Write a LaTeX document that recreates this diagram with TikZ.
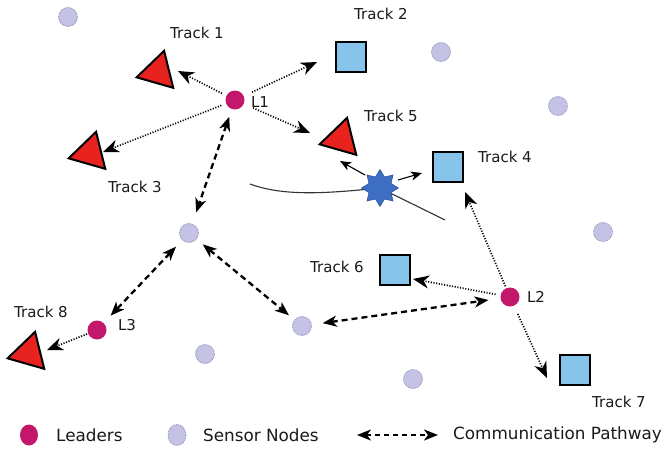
\documentclass[tikz,border=0pt]{standalone}
\usepackage{fontspec}
\setmainfont{DejaVu Sans}
\usetikzlibrary{shapes.geometric,arrows.meta}

\definecolor{leadercol}{HTML}{C2176B}
\definecolor{sensorcol}{HTML}{C4C3E6}
\definecolor{sensorline}{HTML}{8E8CB0}
\definecolor{trired}{HTML}{E8231F}
\definecolor{sqblue}{HTML}{86C4EC}
\definecolor{starblue}{HTML}{3D6EC4}
\definecolor{stardark}{HTML}{2B4F95}
\definecolor{inkgray}{HTML}{1A1A1A}

\begin{document}
\begin{tikzpicture}[x=1pt,y=-1pt,
  leader/.style={circle,fill=leadercol,minimum size=19pt,inner sep=0pt},
  sensor/.style={circle,fill=sensorcol,draw=sensorline,line width=0.7pt,
    dash pattern=on 1.2pt off 1pt,minimum size=19pt,inner sep=0pt},
  target/.style={regular polygon,regular polygon sides=3,shape border rotate=-16,
    fill=trired,draw=black,line width=2pt,minimum size=44pt,inner sep=0pt},
  sqtrack/.style={rectangle,fill=sqblue,draw=black,line width=1.8pt,
    minimum size=30pt,inner sep=0pt},
  lbl/.style={font=\fontsize{15}{18}\selectfont,text=inkgray,inner sep=0pt},
  legtext/.style={font=\fontsize{16.8}{20}\selectfont,text=inkgray,inner sep=0pt,anchor=west},
  dotarrow/.style={line width=1.7pt,dash pattern=on 1.1pt off 1.6pt,
    -{Stealth[length=16pt,width=13pt,inset=5pt]}},
  dasharrow/.style={line width=2.3pt,dash pattern=on 6pt off 4pt,
    {Stealth[length=14pt,width=11pt,inset=4pt]}-{Stealth[length=14pt,width=11pt,inset=4pt]}},
  senseline/.style={line width=1.1pt,-{Stealth[length=11pt,width=9pt,inset=3pt]}},
]
\useasboundingbox (0,0) rectangle (665,450);
\fill[white] (0,0) rectangle (665,450);

% sensor field
\node[sensor] (s1) at (68,17) {};
\node[sensor] (s2) at (441,52) {};
\node[sensor] (s3) at (558,106) {};
\node[sensor] (s4) at (603,232) {};
\node[sensor] (s5) at (189,233) {};
\node[sensor] (s6) at (302,326) {};
\node[sensor] (s7) at (205,354) {};
\node[sensor] (s8) at (413,379) {};

% leaders
\node[leader] (L1) at (235,100) {};
\node[leader] (L2) at (510,297) {};
\node[leader] (L3) at (97,330) {};

% tracked targets
\node[target] (t1) at (158,72) {};
\node[target] (t3) at (90,153) {};
\node[target] (t5) at (341,139) {};
\node[target] (t8) at (29,353) {};
\node[sqtrack] (t2) at (351,57) {};
\node[sqtrack] (t4) at (448,167) {};
\node[sqtrack] (t6) at (395,270) {};
\node[sqtrack] (t7) at (575,370) {};

% moving target and its path
\coordinate (trajA) at (250,184);
\coordinate (trajB) at (445,220);
\draw[line width=1.1pt,draw=black!80] (trajA) .. controls (285,197) and (330,193) .. (380,188) -- (trajB);
\node[star,star points=8,star point ratio=1.55,minimum size=37pt,inner sep=0pt,
  fill=starblue,draw=stardark,line width=0.5pt] (star) at (380,188) {};
\draw[senseline] ([shift={(-15,-13)}]star.center) -- ([shift={(-1,22)}]t5.center);
\draw[senseline] ([shift={(18,-8)}]star.center) -- ([shift={(-26,6)}]t4.center);

% labels
\node[lbl] (lt1) at (197,33) {Track 1};
\node[lbl] (lt2) at (381,14) {Track 2};
\node[lbl] (lt3) at (135,187) {Track 3};
\node[lbl] (lt4) at (505,157) {Track 4};
\node[lbl] (lt5) at (391,116) {Track 5};
\node[lbl] (lt6) at (337,267) {Track 6};
\node[lbl] (lt7) at (619,402) {Track 7};
\node[lbl] (lt8) at (41,312) {Track 8};
\node[lbl] (lL1) at (260,102) {L1};
\node[lbl] (lL2) at (536,297) {L2};
\node[lbl] (lL3) at (127,325) {L3};

% leader to track links
\draw[dotarrow,shorten <=5pt] (L1) -- ([shift={(20,-1)}]t1.center);
\draw[dotarrow,shorten <=9pt] (L1) -- ([shift={(-34,5)}]t2.center);
\draw[dotarrow,shorten <=5pt] (L1) -- ([shift={(13,-1)}]t3.center);
\draw[dotarrow,shorten <=10pt] (L1) -- ([shift={(-31,-6)}]t5.center);
\draw[dotarrow,shorten <=5pt] (L2) -- ([shift={(18,9)}]t6.center);
\draw[dotarrow,shorten <=2pt] (L2) -- ([shift={(17,25)}]t4.center);
\draw[dotarrow,shorten <=9pt] (L2) -- ([shift={(-28,8)}]t7.center);
\draw[dotarrow,shorten <=1pt] (L3) -- ([shift={(18,-3)}]t8.center);

% communication pathways
\draw[dasharrow,shorten <=8pt,shorten >=12pt] (L1) -- (s5);
\draw[dasharrow,shorten <=9pt,shorten >=10pt] (s5) -- (L3);
\draw[dasharrow,shorten <=8pt,shorten >=7pt] (s5) -- (s6);
\draw[dasharrow,shorten <=11pt,shorten >=12pt] (s6) -- (L2);

% legend
\node[leader,minimum width=18pt,minimum height=21pt,ellipse] (kL) at (29,435) {};
\node[legtext] (kLt) at (56,435) {Leaders};
\node[sensor,minimum width=18pt,minimum height=21pt,ellipse] (kS) at (177,435) {};
\node[legtext] (kSt) at (203,435) {Sensor Nodes};
\coordinate (kA) at (357,435);
\coordinate (kB) at (438,435);
\draw[dasharrow,line width=2pt,dash pattern=on 5pt off 4pt] (kA) -- (kB);
\node[legtext] (kCt) at (453,435) {Communication Pathway};
\end{tikzpicture}
\end{document}
